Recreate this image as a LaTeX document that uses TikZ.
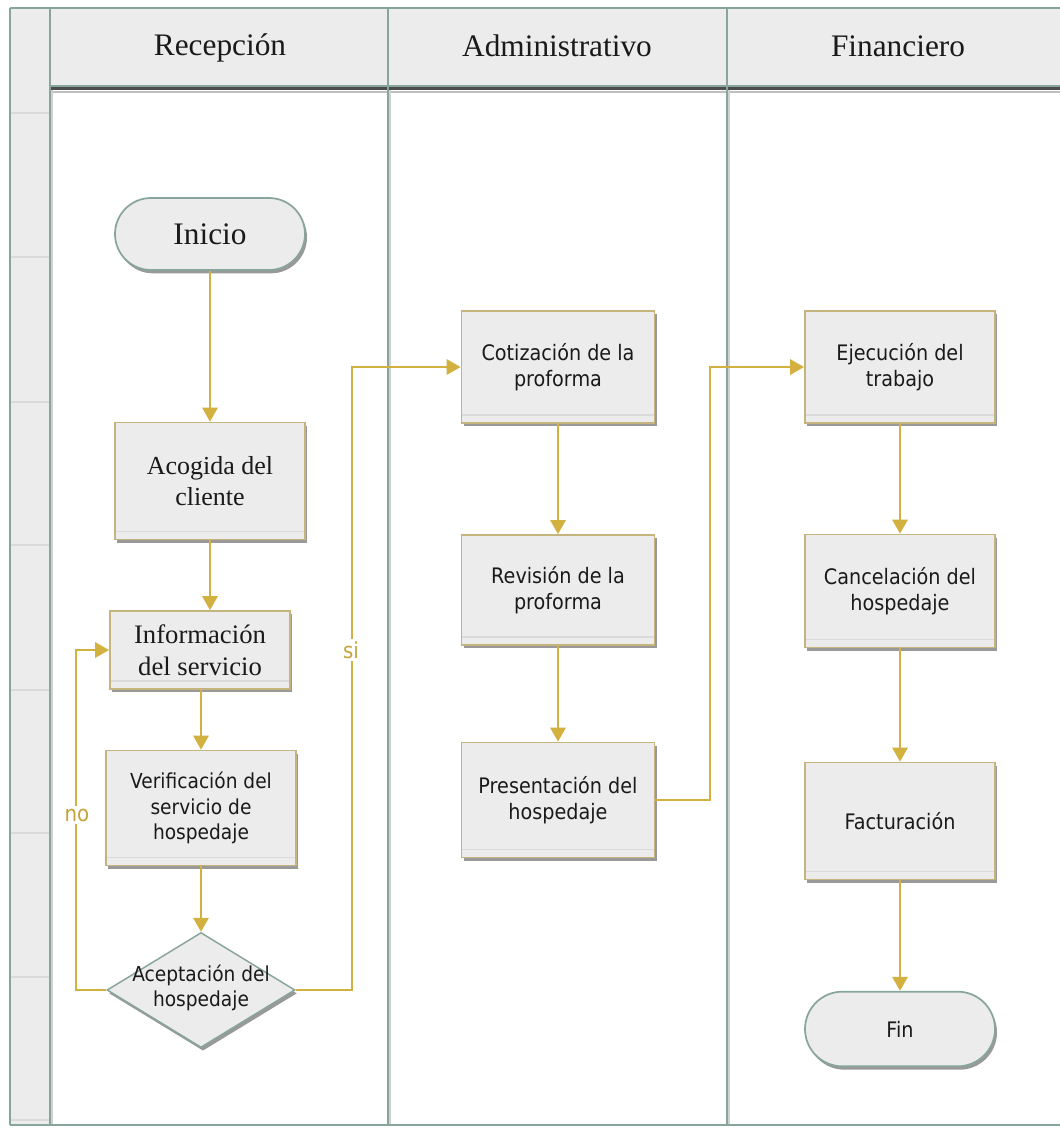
\documentclass[tikz,border=0pt]{standalone}
\usepackage{fontspec}
\setmainfont{Liberation Serif}
\newfontfamily\tah[FakeStretch=0.9]{DejaVu Sans}
\usetikzlibrary{shapes.geometric,shadows,arrows.meta}
\definecolor{lane}{HTML}{87A59A}
\definecolor{hdrfill}{HTML}{ECECEC}
\definecolor{boxfill}{HTML}{ECECEC}
\definecolor{boxline}{HTML}{C6B47E}
\definecolor{arrowc}{HTML}{D2B141}
\definecolor{lblc}{HTML}{C4A43A}
\definecolor{gloss}{HTML}{DADADA}
\definecolor{txt}{HTML}{1A1A1A}
\begin{document}
\begin{tikzpicture}[x=0.75pt,y=-0.75pt,
  shad/.style={drop shadow={shadow xshift=1.5pt,shadow yshift=-2.5pt,fill=black,opacity=0.4}},
  proc/.style={rectangle,draw=boxline,line width=1.3pt,fill=boxfill,minimum width=142.5pt,
    align=center,inner sep=2pt,text=txt,shad,
    path picture={\draw[gloss,line width=0.8pt]
      ([yshift=6pt]path picture bounding box.south west) --
      ([yshift=6pt]path picture bounding box.south east);}},
  term/.style={rectangle,rounded corners=27pt,draw=lane,line width=1.3pt,fill=boxfill,
    minimum width=142.5pt,minimum height=54pt,text=txt,shad},
  dec/.style={diamond,draw=lane,line width=1.1pt,fill=boxfill,inner sep=0pt,
    minimum width=141pt,minimum height=86.25pt,shad},
  sans/.style={font=\tah\fontsize{16}{19.5}\selectfont},
  sanss/.style={font=\tah\fontsize{15.5}{19}\selectfont},
  serifb/.style={font=\fontsize{19.5}{23.5}\selectfont},
  hdr/.style={font=\fontsize{23.5}{27}\selectfont,text=txt},
  flow/.style={draw=arrowc,line width=1.6pt,-{Triangle[length=10.5pt,width=11.5pt]}},
  lbl/.style={text=lblc,fill=white,inner sep=2pt,font=\tah\fontsize{16.5}{18}\selectfont},
  laneln/.style={draw=lane,line width=1.8pt},
  lanesh/.style={draw=black!18,line width=1.8pt}
]
\useasboundingbox (0,0) rectangle (1060,1128);
% left strip and header
\fill[hdrfill] (10,8) rectangle (50,1125);
\fill[hdrfill] (50,8) rectangle (1060,86);
\foreach \yy in {113,257,402,545,690,833,977,1120}
  \draw[gloss,line width=1pt] (11,\yy) -- (49,\yy);
% header bottom shadow
\draw[black!70,line width=2.4pt] (50,88.5) -- (1060,88.5);
\draw[black!25,line width=1.5pt] (50,91.5) -- (1060,91.5);
% lane shadows
\foreach \xx in {50,388,727} \draw[lanesh] (\xx+2,90) -- (\xx+2,1125);
% frame lines
\draw[laneln] (10,8) -- (1060,8);
\draw[laneln] (50,86) -- (1060,86);
\draw[laneln] (10,8) -- (10,1125);
\draw[laneln] (50,8) -- (50,1125);
\draw[laneln] (388,8) -- (388,1125);
\draw[laneln] (727,8) -- (727,1125);
\draw[laneln] (10,1125) -- (1060,1125);
% headers
\node[hdr] (h1) at (220,48) {Recepción};
\node[hdr] (h2) at (557,46) {Administrativo};
\node[hdr] (h3) at (898,46) {Financiero};
% nodes
\node[term,font=\fontsize{23.5}{27}\selectfont] (ini) at (210,234) {Inicio};
\node[proc,serifb,minimum height=87.75pt] (aco) at (210,481) {Acogida del\\cliente};
\node[proc,font=\fontsize{20}{24}\selectfont,minimum width=135pt,minimum height=58.5pt] (inf) at (200,650) {Información\\del servicio};
\node[proc,sanss,minimum height=86.25pt] (ver) at (201,808) {Verificación del\\servicio de\\hospedaje};
\node[dec] (dec) at (201,990) {};
\node[sanss,align=center,text=txt] (dect) at (201,988) {Aceptación del\\hospedaje};
\node[proc,sans,minimum width=144.75pt,minimum height=84pt] (cot) at (558,367) {Cotización de la\\proforma};
\node[proc,sans,minimum width=144.75pt,minimum height=82.5pt] (rev) at (558,590) {Revisión de la\\proforma};
\node[proc,sans,minimum width=144.75pt,minimum height=86.25pt] (pre) at (558,800) {Presentación del\\hospedaje};
\node[proc,sans,minimum height=84pt] (eje) at (900,367) {Ejecución del\\trabajo};
\node[proc,sans,minimum height=84.75pt] (can) at (900,591) {Cancelación del\\hospedaje};
\node[proc,sans,minimum height=87.75pt] (fac) at (900,821) {Facturación};
\node[term,sans,minimum height=56pt,rounded corners=28pt] (fin) at (900,1029) {Fin};
% connectors
\draw[flow] (ini.south) -- (aco.north);
\draw[flow] (aco.south) -- (aco.south |- inf.north);
\draw[flow] (inf.south -| ver.north) -- (ver.north);
\draw[flow] (ver.south) -- (dec.north);
\draw[flow] (dec.west) -- ++(-30,0) |- (inf.west);
\draw[flow] (dec.east) -- ++(56,0) |- (cot.west);
\draw[flow] (cot.south) -- (rev.north);
\draw[flow] (rev.south) -- (pre.north);
\draw[flow] (pre.east) -- ++(55,0) |- (eje.west);
\draw[flow] (eje.south) -- (can.north);
\draw[flow] (can.south) -- (fac.north);
\draw[flow] (fac.south) -- (fin.north);
% labels
\node[lbl] (no) at (77,815) {no};
\node[lbl] (si) at (351,650) {si};
\end{tikzpicture}
\end{document}
